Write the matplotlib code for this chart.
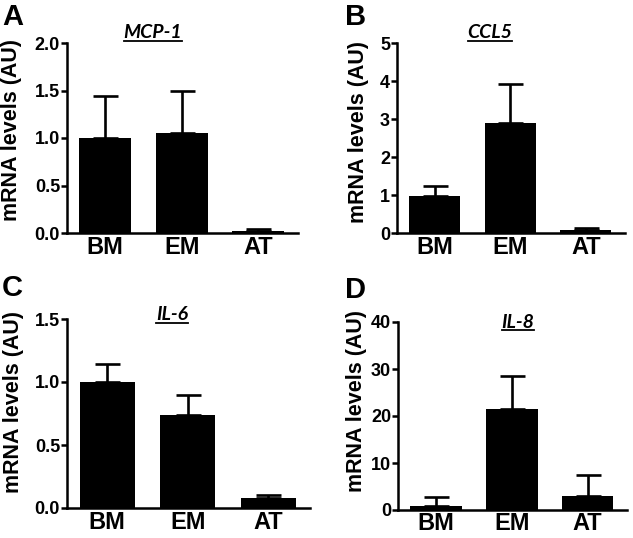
import matplotlib
matplotlib.use("Agg")
import matplotlib.pyplot as plt
from matplotlib.lines import Line2D

# ================= DATA =================
groups = ["BM", "EM", "AT"]

mcp1_mean = [1.00, 1.05, 0.02]
mcp1_err = [0.44, 0.45, 0.02]

ccl5_mean = [0.97, 2.90, 0.08]
ccl5_err = [0.26, 1.02, 0.05]

il6_mean = [1.00, 0.74, 0.08]
il6_err = [0.14, 0.16, 0.02]

il8_mean = [0.9, 21.5, 3.0]
il8_err = [1.8, 7.1, 4.5]

genes = ["MCP-1", "CCL5", "IL-6", "IL-8"]
letters = ["A", "B", "C", "D"]
ylims = [2.0, 5, 1.5, 40]
yticks = [[0, 0.5, 1.0, 1.5, 2.0], [0, 1, 2, 3, 4, 5], [0, 0.5, 1.0, 1.5], [0, 10, 20, 30, 40]]
ytick_labels = [["0.0", "0.5", "1.0", "1.5", "2.0"], ["0", "1", "2", "3", "4", "5"],
                ["0.0", "0.5", "1.0", "1.5"], ["0", "10", "20", "30", "40"]]

# ================= LAYOUT =================
W, H = 633, 538
# axes boxes in pixels: left, right, top, bottom
boxes = [(67, 298, 43, 233), (397, 625, 43, 233), (67, 310, 319, 508), (398, 627, 322, 510)]
title_x = [153, 490, 172, 518]   # pixel centre of gene name
title_y = [33, 33, 315, 322]
letter_xy = [(2, 3), (345, 3), (2, 274), (345, 276)]
ylab_x = [22, 369, 24, 367]
ylab_y = [130, 132, 402, 401]
xpad = [2.5, 2.5, 2.5, 1.5]

plt.rcParams['font.family'] = ['Liberation Sans', 'DejaVu Sans']
plt.rcParams['font.weight'] = 'bold'

fig = plt.figure(figsize=(W / 100, H / 100), dpi=100)

data = [(mcp1_mean, mcp1_err), (ccl5_mean, ccl5_err), (il6_mean, il6_err), (il8_mean, il8_err)]
xs = list(range(len(groups)))
titles = []

for i, (mean, err) in enumerate(data):
    l, r, t, b = boxes[i]
    ax = fig.add_axes([l / W, 1 - b / H, (r - l) / W, (b - t) / H])
    ax.bar(xs, mean, width=0.68, color="black", edgecolor="black", linewidth=0, zorder=2)
    ax.errorbar(xs, mean, yerr=[[0] * len(err), err], fmt="none", ecolor="black",
                elinewidth=1.9, capsize=9, capthick=1.9, zorder=1)
    ax.set_xlim(-0.5, 2.52)
    ax.set_ylim(0, ylims[i])
    ax.set_yticks(yticks[i])
    ax.set_yticklabels(ytick_labels[i], fontsize=13, fontweight='bold')
    ax.set_xticks(xs)
    ax.set_xticklabels(groups, fontsize=17, fontweight='bold')
    ax.tick_params(axis='x', length=0, pad=xpad[i])
    ax.tick_params(axis='y', length=4, width=1.8, pad=1)
    for s in ['top', 'right']:
        ax.spines[s].set_visible(False)
    for s in ['left', 'bottom']:
        ax.spines[s].set_linewidth(1.8)
    ax.set_ylabel("mRNA levels (AU)", fontsize=15.5, fontweight='bold')
    ax.yaxis.set_label_coords((ylab_x[i] - l) / (r - l), (b - ylab_y[i]) / (b - t))
    ax.patch.set_visible(False)

    tt = fig.text(title_x[i] / W, 1 - title_y[i] / H, genes[i], ha='center', va='center',
                  fontsize=14, fontweight='bold', style='italic', family='Lato')
    titles.append(tt)

    lx, ly = letter_xy[i]
    fig.text(lx / W, 1 - ly / H, letters[i], ha='left', va='top', fontsize=21, fontweight='bold')

# underline the gene names
fig.canvas.draw()
renderer = fig.canvas.get_renderer()
for tt in titles:
    bb = tt.get_window_extent(renderer)
    y = bb.y0 + 1
    fig.add_artist(Line2D([bb.x0 / W, bb.x1 / W], [y / H, y / H], color="black",
                          linewidth=1.3, transform=fig.transFigure))

fig.savefig("out.png", dpi=100)
